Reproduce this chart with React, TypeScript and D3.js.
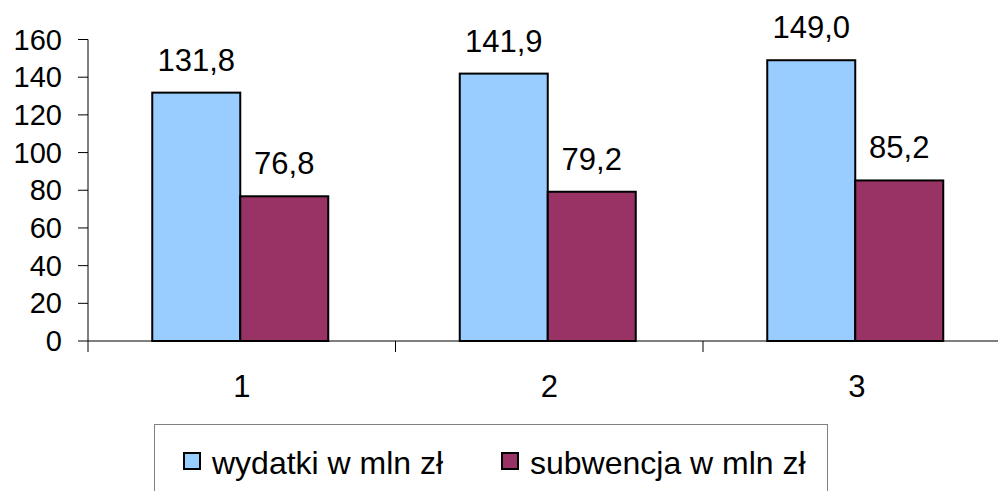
import React from "react";
import * as d3 from "d3";

const categories = ["1", "2", "3"];
const wydatki = [131.8, 141.9, 149.0];
const subwencja = [76.8, 79.2, 85.2];
const yTicks = [0, 20, 40, 60, 80, 100, 120, 140, 160];
const seriesNames = ["wydatki w mln zł", "subwencja w mln zł"];
const seriesColors = ["#99CCFF", "#993366"];

const W = 998;
const H = 491;
const FONT = "'Liberation Sans', Arial, sans-serif";

export default function App() {
  const x0 = 88;
  const bandW = 307.5;
  const x = d3
    .scaleBand<string>()
    .domain(categories)
    .range([x0, x0 + bandW * categories.length])
    .paddingInner(0)
    .paddingOuter(0);
  const y = d3.scaleLinear().domain([0, 160]).range([341, 39.5]);
  const barW = 88;
  const fmt = (v: number) => v.toFixed(1).replace(".", ",");
  const series = [wydatki, subwencja];

  return (
    <svg
      width={W}
      height={H}
      style={{ position: "absolute", left: 0, top: 0, background: "#fff" }}
      fontFamily={FONT}
    >
      <rect x={0} y={0} width={W} height={H} fill="#fff" />
      {/* y axis */}
      <line x1={x0} x2={x0} y1={y(160)} y2={y(0)} stroke="#000" strokeWidth={1} />
      {yTicks.map((t) => (
        <g key={t}>
          <line x1={x0 - 10} x2={x0} y1={y(t)} y2={y(t)} stroke="#000" strokeWidth={1} />
          <text
            x={62}
            y={y(t)}
            textAnchor="end"
            dominantBaseline="central"
            fontSize={29}
            fill="#000"
          >
            {t}
          </text>
        </g>
      ))}
      {/* x axis */}
      <line x1={x0} x2={W} y1={y(0)} y2={y(0)} stroke="#000" strokeWidth={1} />
      {categories.map((c, i) => {
        const bx = x(c)!;
        return (
          <g key={c}>
            <line x1={bx} x2={bx} y1={y(0)} y2={y(0) + 11} stroke="#000" strokeWidth={1} />
            <text
              x={bx + x.bandwidth() / 2}
              y={397}
              textAnchor="middle"
              fontSize={31}
              fill="#000"
            >
              {c}
            </text>
          </g>
        );
      })}
      {/* bars */}
      {categories.map((c, i) => {
        const cx = x(c)! + x.bandwidth() / 2 - 1.5;
        return series.map((s, k) => {
          const bx = cx - barW + k * barW;
          const v = s[i];
          return (
            <g key={c + k}>
              <rect
                x={bx}
                y={y(v)}
                width={barW}
                height={y(0) - y(v)}
                fill={seriesColors[k]}
                stroke="#000"
                strokeWidth={2}
              />
              <text
                x={bx + barW / 2}
                y={y(v) - 22}
                textAnchor="middle"
                fontSize={31}
                fill="#000"
              >
                {fmt(v)}
              </text>
            </g>
          );
        });
      })}
      {/* legend */}
      <rect x={154.5} y={424.5} width={673} height={80} fill="#fff" stroke="#808080" strokeWidth={1} />
      {seriesNames.map((n, k) => {
        const lx = k === 0 ? 184 : 502;
        return (
          <g key={n}>
            <rect x={lx} y={453} width={16} height={16} fill={seriesColors[k]} stroke="#000" strokeWidth={2} />
            <text x={lx + 28} y={474} fontSize={32} fill="#000">
              {n}
            </text>
          </g>
        );
      })}
    </svg>
  );
}
